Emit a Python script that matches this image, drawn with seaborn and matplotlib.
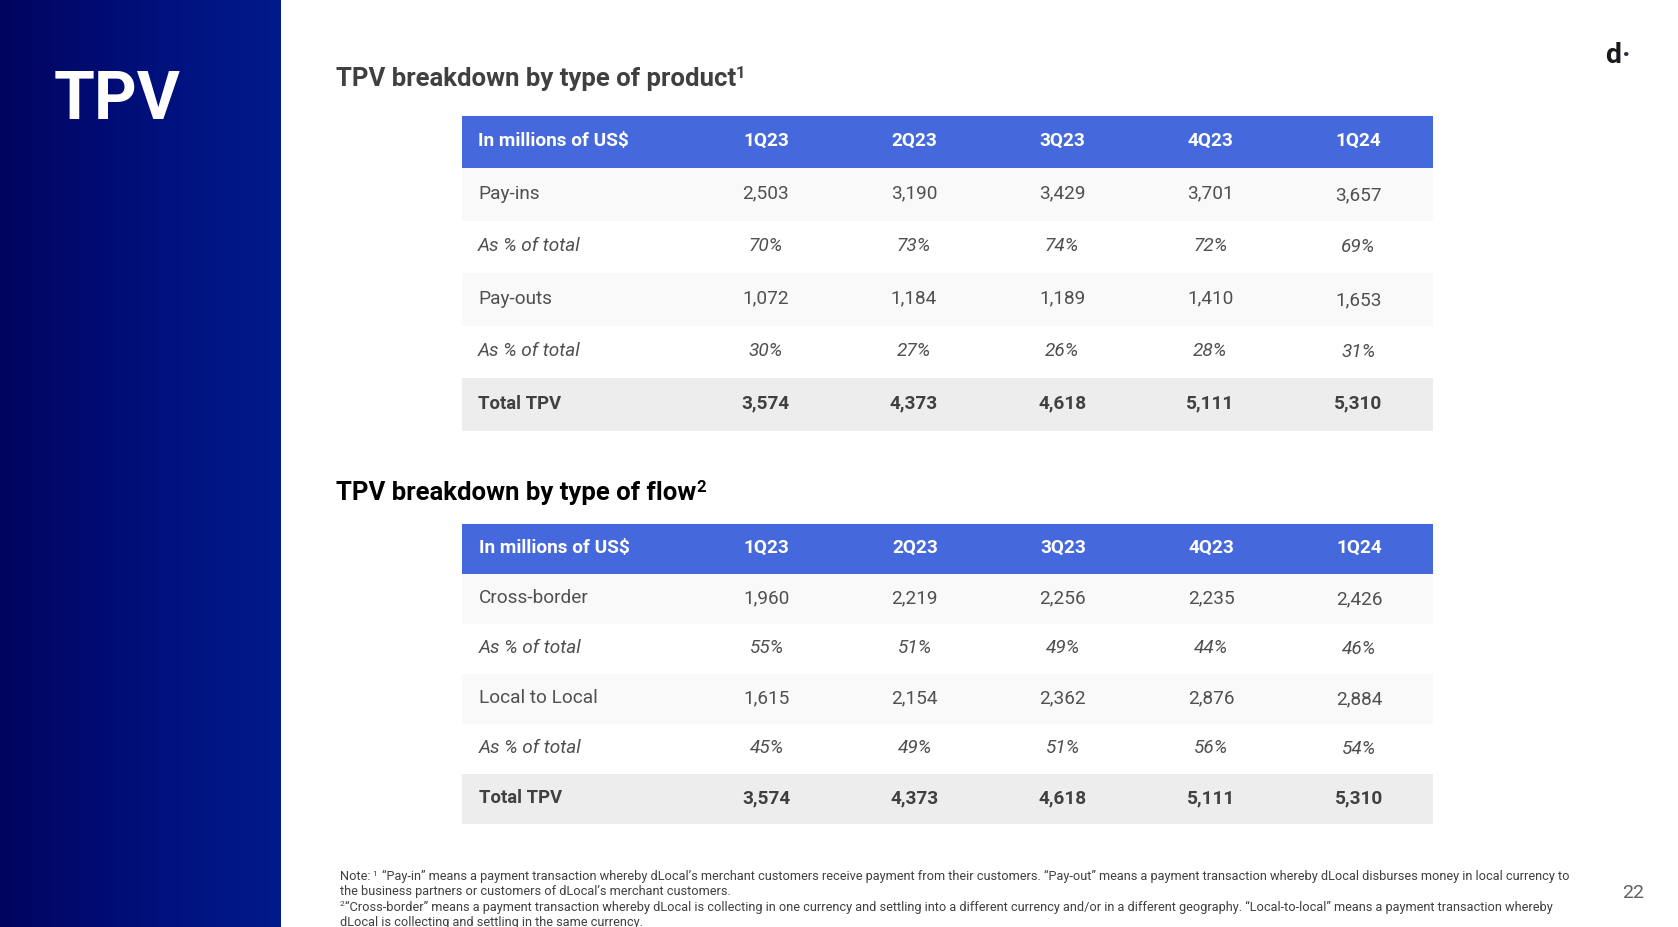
import numpy as np
import pandas as pd
import seaborn as sns
import matplotlib
matplotlib.use("Agg")
import matplotlib.pyplot as plt
from matplotlib.colors import ListedColormap, LinearSegmentedColormap

quarters = ["1Q23", "2Q23", "3Q23", "4Q23", "1Q24"]
header_label = "In millions of US$"
pct_label = "As % of total"
total_label = "Total TPV"

payins = [2503, 3190, 3429, 3701, 3657]
payins_pct = [70, 73, 74, 72, 69]
payouts = [1072, 1184, 1189, 1410, 1653]
payouts_pct = [30, 27, 26, 28, 31]
crossborder = [1960, 2219, 2256, 2235, 2426]
crossborder_pct = [55, 51, 49, 44, 46]
local = [1615, 2154, 2362, 2876, 2884]
local_pct = [45, 49, 51, 56, 54]
total = [3574, 4373, 4618, 5111, 5310]

notes = [
    "Note: ",
    "“Pay-in” means a payment transaction whereby dLocal’s merchant customers receive payment from their customers. “Pay-out” means a payment transaction whereby dLocal disburses money in local currency to",
    "the business partners or customers of dLocal’s merchant customers.",
    "“Cross-border” means a payment transaction whereby dLocal is collecting in one currency and settling into a different currency and/or in a different geography. “Local-to-local” means a payment transaction whereby",
    "dLocal is collecting and settling in the same currency.",
]

W, H = 1678, 928
sns.set_theme(style="white")
plt.rcParams["font.family"] = ["Roboto", "DejaVu Sans"]
fig = plt.figure(figsize=(W / 100, H / 100), dpi=100, facecolor="white")


def axes_px(x0, y0, x1, y1):
    return fig.add_axes([x0 / W, 1 - y1 / H, (x1 - x0) / W, (y1 - y0) / H])


# Full-canvas overlay in pixel units
bg = axes_px(0, 0, W, H)
bg.set_xlim(0, W)
bg.set_ylim(H, 0)
bg.axis("off")

# Gradient side panel
panel = axes_px(0, 0, 281, H)
grad = LinearSegmentedColormap.from_list("p", ["#00045E", "#000F7A", "#021A8C"])
panel.imshow(np.linspace(0, 1, 256)[None, :], aspect="auto", cmap=grad)
panel.axis("off")
panel.text(0.19, 0.891, "TPV", transform=panel.transAxes, color="white", fontsize=47.5,
           fontweight="bold", ha="left", va="center")

band_cmap = ListedColormap(["#4569DC", "#F9F9F9", "#FFFFFF", "#EDEDED"])
KINDS = np.array([0, 1, 2, 1, 2, 3])
COL_W_PX = [230, 148, 148, 148, 148, 148]


def table(box, first, first_pct, second, second_pct, first_name, second_name, dx=0.0, cx=0.0):
    ax = axes_px(*box)
    frame = pd.DataFrame(np.tile(KINDS[:, None], (1, 970)))
    sns.heatmap(frame, ax=ax, cmap=band_cmap, vmin=-0.5, vmax=3.5, cbar=False,
                xticklabels=False, yticklabels=False, linewidths=0, rasterized=True)
    names = [header_label, first_name, pct_label, second_name, pct_label, total_label]
    rows = [quarters,
            [f"{v:,}" for v in first], [f"{v}%" for v in first_pct],
            [f"{v:,}" for v in second], [f"{v}%" for v in second_pct],
            [f"{v:,}" for v in total]]
    centers = np.cumsum(COL_W_PX)[:-1] + 74 + cx
    for r, (name, cells, kind) in enumerate(zip(names, rows, KINDS)):
        col = {0: "white", 1: "#505050", 2: "#505050", 3: "#404040"}[kind]
        fw = "bold" if kind in (0, 3) else "normal"
        st = "italic" if kind == 2 else "normal"
        ax.text(16 + dx, r + 0.47, name, color=col, fontsize=13.3 if kind == 3 else 13.7,
                fontweight=fw, fontstyle=st, ha="left", va="center")
        for c, t in enumerate(cells):
            nudge = 0.025 if (c == 4 and kind in (1, 2)) else 0
            ax.text(centers[c], r + 0.47 + nudge, t, color=col, fontsize=13.7, fontweight=fw,
                    fontstyle=st, ha="center", va="center")
    return ax


table((462, 116.5, 1433, 431.5), payins, payins_pct, payouts, payouts_pct, "Pay-ins", "Pay-outs",
      cx=-0.5)
table((462, 524.5, 1433, 824.5), crossborder, crossborder_pct, local, local_pct,
      "Cross-border", "Local to Local", dx=1, cx=0.3)

# Section titles with superscripts
r = fig.canvas.get_renderer()


def with_sup(x, y, s, sup, size, color, weight, sup_size, sup_dy):
    t = bg.text(x, y, s, color=color, fontsize=size, fontweight=weight, ha="left", va="baseline")
    e = t.get_window_extent(r)
    bg.text(e.x1, y - sup_dy, sup, color=color, fontsize=sup_size, fontweight=weight,
            ha="left", va="baseline")


with_sup(336, 86, "TPV breakdown by type of product", "1", 18.5, "#404040", "bold", 12, 8)
with_sup(336, 500, "TPV breakdown by type of flow", "2", 18.5, "#000000", "bold", 12, 8)

# Notes
nc, ns = "#404040", 9.2
e = bg.text(340, 880, notes[0], color=nc, fontsize=ns, va="baseline").get_window_extent(r)
bg.text(e.x1 - 1, 876, "1", color=nc, fontsize=6, va="baseline")
bg.text(e.x1 + 8, 880, notes[1], color=nc, fontsize=ns, va="baseline")
bg.text(340, 895, notes[2], color=nc, fontsize=ns, va="baseline")
bg.text(340, 906, "2", color=nc, fontsize=6, va="baseline")
bg.text(345, 911, notes[3], color=nc, fontsize=ns, va="baseline")
bg.text(340, 926, notes[4], color=nc, fontsize=ns, va="baseline")

# Logo and page number
bg.text(1605, 63, "d", color="#1A1A1A", fontsize=20.5, fontweight="bold", va="baseline", ha="left")
bg.text(1622, 63, "·", color="#2A2A55", fontsize=20.5, fontweight="bold", va="baseline", ha="left")
bg.text(1633, 893, "22", color="#606060", fontsize=14, va="center", ha="center")

fig.savefig("out.png", dpi=100, facecolor="white")
